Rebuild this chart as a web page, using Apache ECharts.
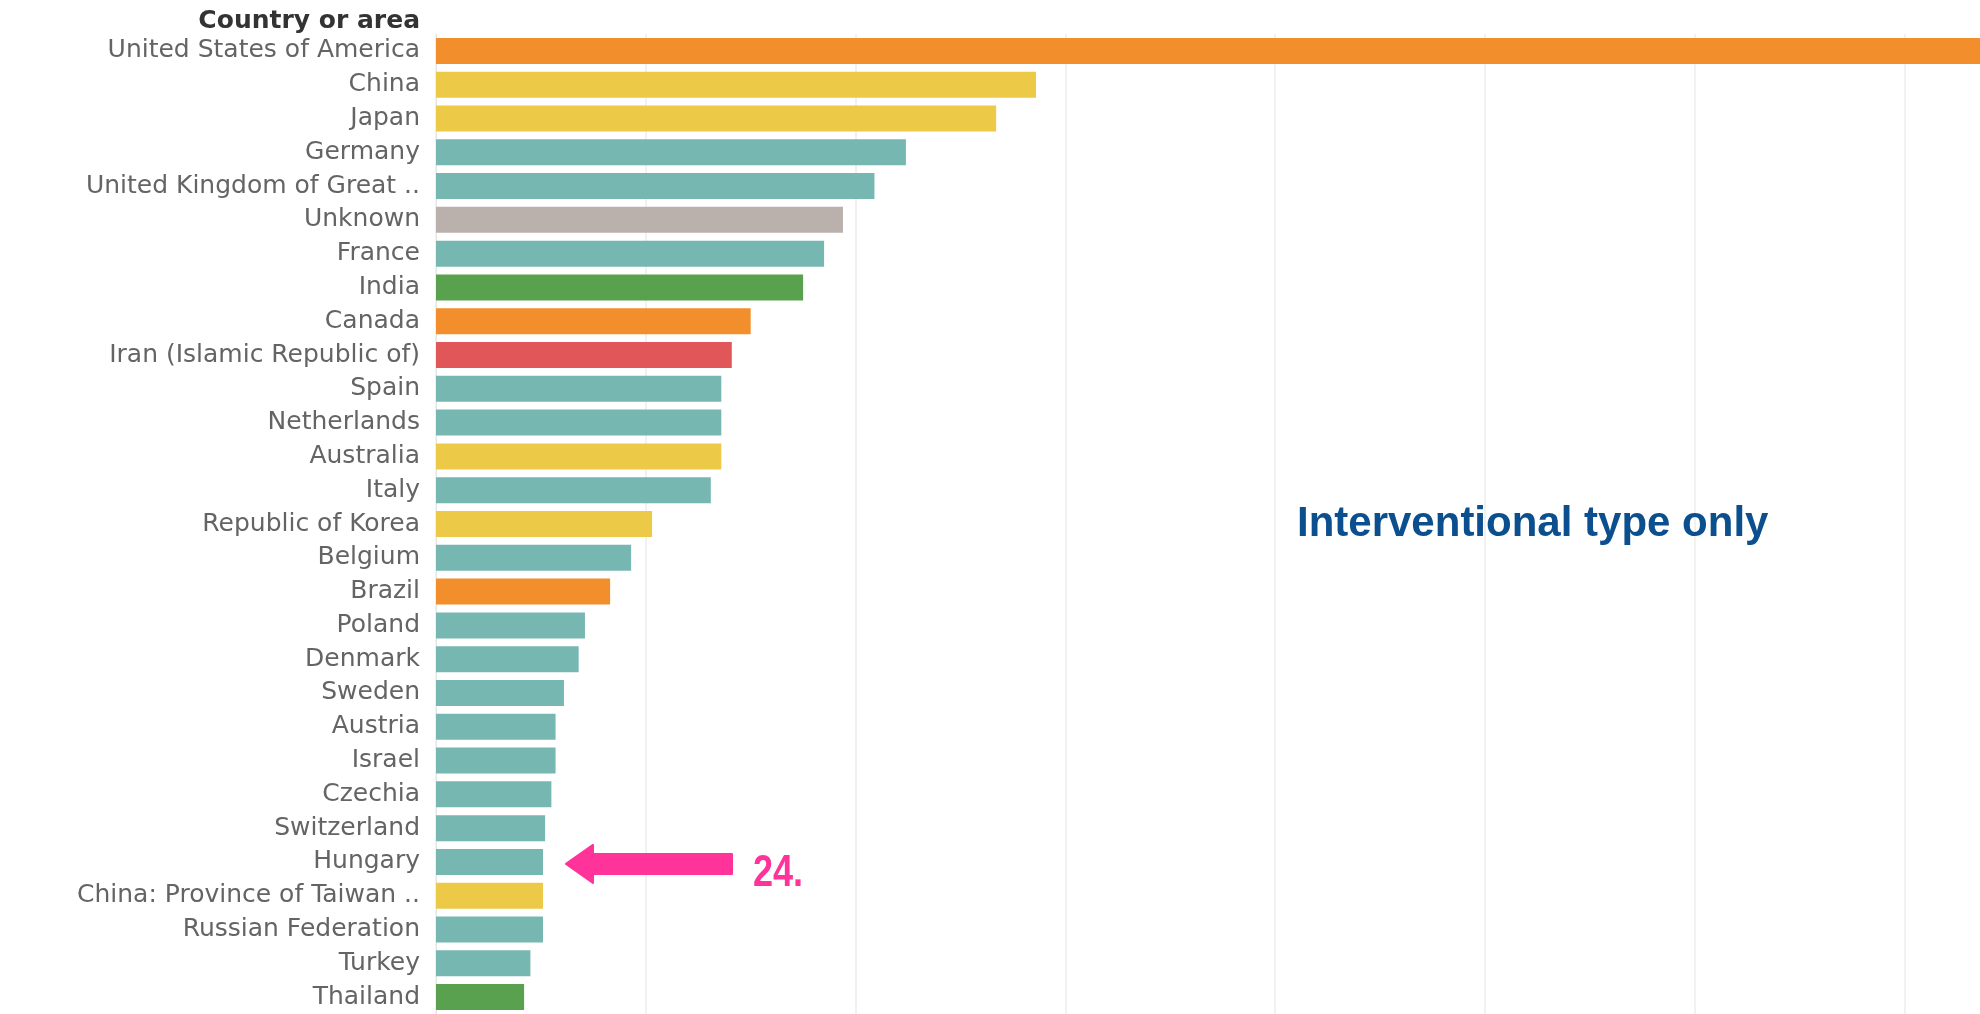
<!DOCTYPE html>
<html lang="en">

<head>
  <meta charset="UTF-8">
  <title>Country or area</title>
  <script src="https://cdn.jsdelivr.net/npm/echarts@6/dist/echarts.min.js"></script>
  <style>
    html, body { margin: 0; padding: 0; background: #fff; }
  </style>
</head>

<body>
  <div id="main" style="width: 1980px; height: 1014px;"></div>
  <script>
    // data (1 grid step = 100)
    var countries = ['United States of America', 'China', 'Japan', 'Germany', 'United Kingdom of Great ..',
      'Unknown', 'France', 'India', 'Canada', 'Iran (Islamic Republic of)', 'Spain', 'Netherlands',
      'Australia', 'Italy', 'Republic of Korea', 'Belgium', 'Brazil', 'Poland', 'Denmark', 'Sweden',
      'Austria', 'Israel', 'Czechia', 'Switzerland', 'Hungary', 'China: Province of Taiwan ..',
      'Russian Federation', 'Turkey', 'Thailand'];
    var values = [780, 286, 267, 224, 209, 194, 185, 175, 150, 141, 136, 136, 136, 131, 103, 93, 83,
      71, 68, 61, 57, 57, 55, 52, 51, 51, 51, 45, 42];
    var regions = ['AMR', 'WPR', 'WPR', 'EUR', 'EUR', 'UNK', 'EUR', 'SEAR', 'AMR', 'EMR', 'EUR', 'EUR',
      'WPR', 'EUR', 'WPR', 'EUR', 'AMR', 'EUR', 'EUR', 'EUR', 'EUR', 'EUR', 'EUR', 'EUR', 'EUR', 'WPR',
      'EUR', 'EUR', 'SEAR'];
    var marked = 'Hungary';
    var markedRank = '24.';

    var regionColor = {
      AMR: '#f28e2b',
      WPR: '#edc948',
      EUR: '#76b7b2',
      UNK: '#bab0ac',
      SEAR: '#59a14f',
      EMR: '#e15759'
    };

    var myChart = echarts.init(document.getElementById('main'));

    var option = {
      animation: false,
      grid: { left: 436, right: 0, top: 34, bottom: 0 },
      xAxis: {
        type: 'value',
        min: 0,
        max: 736,   // view is cut off on the right, like the original
        interval: 100,
        axisLabel: { show: false },
        axisTick: { show: false },
        axisLine: { show: false },
        splitLine: { showMaxLine: false, lineStyle: { color: '#ededed', width: 1.5 } }
      },
      yAxis: {
        type: 'category',
        inverse: true,
        data: countries,
        axisTick: { show: false },
        axisLine: { show: true, lineStyle: { color: '#e6e6e6' } },
        axisLabel: {
          margin: 16,
          fontFamily: 'DejaVu Sans',
          fontSize: 25,
          color: '#646464'
        },
        name: 'Country or area',
        nameLocation: 'start',
        nameGap: 13,
        nameTextStyle: {
          align: 'right',
          verticalAlign: 'middle',
          padding: [0, 16, 0, 0],
          fontFamily: 'DejaVu Sans',
          fontWeight: 'bold',
          fontSize: 25,
          color: '#333'
        }
      },
      series: [{
        type: 'bar',
        barWidth: 26,
        clip: true,
        data: values.map(function (v, i) {
          return { value: v, itemStyle: { color: regionColor[regions[i]] } };
        })
      }]
    };

    myChart.setOption(option);

    // arrow + rank pointing at the marked bar
    var p = myChart.convertToPixel({ gridIndex: 0 }, [values[countries.indexOf(marked)], marked]);
    var tx = p[0] + 23, ty = p[1] + 2;
    myChart.setOption({
      graphic: [
        {
          type: 'text',
          x: 1297,
          y: 524,
          style: {
            text: 'Interventional type only',
            font: 'bold 42px "Liberation Sans", Arial, sans-serif',
            fill: '#0c4f8e',
            verticalAlign: 'middle'
          }
        },
        {
          type: 'polygon',
          shape: {
            points: [[tx, ty], [tx + 27, ty - 19], [tx + 27, ty - 10], [tx + 166, ty - 10],
              [tx + 166, ty + 10], [tx + 27, ty + 10], [tx + 27, ty + 19]]
          },
          style: { fill: '#ff3399', lineJoin: 'round', stroke: '#ff3399', lineWidth: 2 }
        },
        {
          type: 'text',
          x: tx + 187,
          y: ty + 10,
          scaleX: 0.82,
          style: {
            text: markedRank,
            font: 'bold 44px "Liberation Sans", sans-serif',
            fill: '#ff3399',
            verticalAlign: 'middle'
          }
        }
      ]
    });
  </script>
</body>

</html>
